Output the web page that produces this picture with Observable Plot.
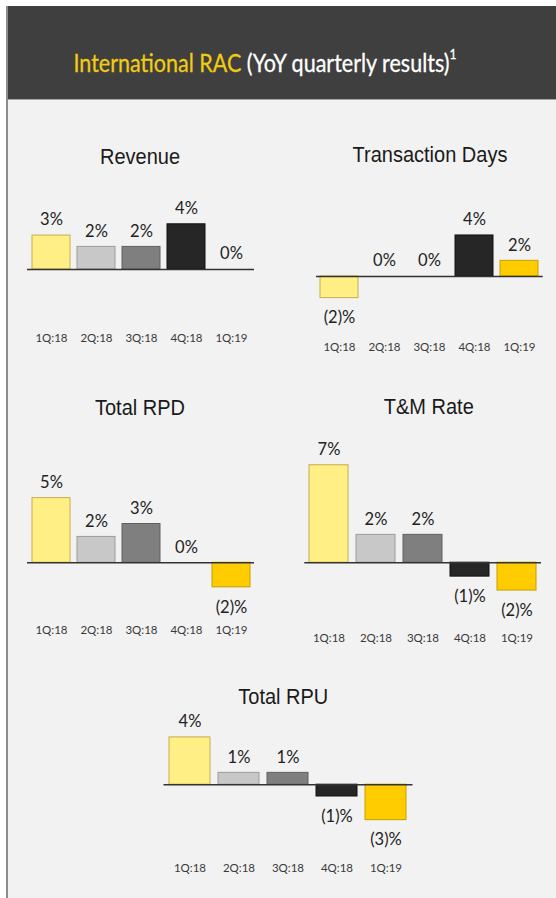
<!DOCTYPE html>
<html><head><meta charset="utf-8">
<script src="https://cdn.jsdelivr.net/npm/d3@7"></script>
<script src="https://cdn.jsdelivr.net/npm/@observablehq/plot@0.6"></script>
<style>
html,body{margin:0;padding:0;background:#fff;}
#page{position:relative;width:556px;height:898px;overflow:hidden;background:#fff;}
#header{position:absolute;left:7px;top:6px;width:549px;height:93px;background:#3f3f3f;}
#headtitle{position:absolute;left:265px;top:62px;transform:translate(-50%,-50%) scaleX(0.86);font-family:Lato,sans-serif;font-size:25px;color:#fff;white-space:nowrap;-webkit-text-stroke:0.3px currentColor;}
#headtitle .y{color:#F2CC12;}
#headtitle sup{font-size:14px;vertical-align:top;position:relative;top:-2px;}
#body{position:absolute;left:7px;top:99px;width:549px;height:799px;background:#f2f2f2;border-top:1.5px solid #a6a6a6;}
#leftline{position:absolute;left:6px;top:6px;width:1.5px;height:892px;background:#8c8c8c;}
.ptitle{position:absolute;transform:translate(-50%,-50%) scaleY(1.08);font-family:"Liberation Sans",Arial,sans-serif;font-size:20px;color:#1a1a1a;white-space:nowrap;}
.plotwrap{position:absolute;left:0;}
</style></head><body>
<div id="page">
  <div id="header"></div>
  <div id="body"></div>
  <div id="leftline"></div>
  <div id="headtitle"><span class="y">International RAC</span> (YoY quarterly results)<sup>1</sup></div>
</div>
<script>
// ---- data ----
const quarters = ["1Q:18", "2Q:18", "3Q:18", "4Q:18", "1Q:19"];
const barFills = ["#FFEF85", "#C8C8C8", "#7F7F7F", "#262626", "#FFCC00"];
const barStrokes = ["#C2AE4E", "#9C9C9C", "#606060", "#111111", "#C49E00"];

const revenue = [3.0, 2.0, 2.0, 4.0, 0.0];
const revenueLabels = ["3%", "2%", "2%", "4%", "0%"];

const transactionDays = [-2.0, 0.0, 0.0, 3.8, 1.45];
const transactionDaysLabels = ["(2)%", "0%", "0%", "4%", "2%"];

const totalRPD = [5.0, 2.0, 3.0, 0.0, -1.9];
const totalRPDLabels = ["5%", "2%", "3%", "0%", "(2)%"];

const tmRate = [7.0, 2.0, 2.0, -1.0, -2.0];
const tmRateLabels = ["7%", "2%", "2%", "(1)%", "(2)%"];

const totalRPU = [4.0, 1.0, 1.0, -1.0, -3.0];
const totalRPULabels = ["4%", "1%", "1%", "(1)%", "(3)%"];

// ---- layout (page pixel positions) ----
const panels = [
  {title: "Revenue", values: revenue, labels: revenueLabels, x0: 27, x1: 254, base: 269.3, ppp: 11.3, tickY: 337.3, tx: 140, ty: 157},
  {title: "Transaction Days", values: transactionDays, labels: transactionDaysLabels, x0: 316, x1: 542.7, base: 276, ppp: 10.8, tickY: 346, tx: 430, ty: 155},
  {title: "Total RPD", values: totalRPD, labels: totalRPDLabels, x0: 27, x1: 254, base: 561.7, ppp: 12.9, tickY: 628.3, tx: 140, ty: 408},
  {title: "T&M Rate", values: tmRate, labels: tmRateLabels, x0: 304.3, x1: 541, base: 562, ppp: 13.9, tickY: 636.7, tx: 428.8, ty: 407},
  {title: "Total RPU", values: totalRPU, labels: totalRPULabels, x0: 163.5, x1: 412.5, base: 784, ppp: 11.8, tickY: 866.7, tx: 283.3, ty: 697}
];

const page = document.getElementById("page");
const W = 556;

for (const p of panels) {
  const rows = quarters.map((q, i) => ({q, v: p.values[i], label: p.labels[i], fill: barFills[i], stroke: barStrokes[i]}));
  const above = 130;
  const svgTop = p.base - above;
  const frameBottom = p.tickY - 7;
  const mb = 20;
  const H = Math.round(frameBottom - svgTop + mb);
  const ymax = above / p.ppp;
  const ymin = -(frameBottom - p.base) / p.ppp;

  const chart = Plot.plot({
    width: W,
    height: H,
    marginLeft: p.x0,
    marginRight: W - p.x1,
    marginTop: 0,
    marginBottom: mb,
    x: {domain: quarters, paddingInner: 0.16, paddingOuter: 0.08, label: null, tickSize: 0, tickPadding: 3},
    y: {domain: [ymin, ymax], axis: null},
    color: {type: "identity"},
    style: {background: "transparent", overflow: "visible", fontFamily: "Lato, sans-serif", fontSize: "11.5px", color: "#3a3a3a"},
    marks: [
      Plot.barY(rows, {x: "q", y: "v", fill: "fill", stroke: "stroke", strokeWidth: 1}),
      Plot.ruleY([0], {stroke: "#333", strokeWidth: 1.5}),
      Plot.text(rows.filter(d => d.v >= 0), {x: "q", y: "v", text: "label", dy: -15.5, fontSize: 16.5, fill: "#222", fontFamily: "Lato, sans-serif"}),
      Plot.text(rows.filter(d => d.v < 0), {x: "q", y: "v", text: "label", dy: 20, fontSize: 16.5, fill: "#222", fontFamily: "Lato, sans-serif"})
    ]
  });
  const wrap = document.createElement("div");
  wrap.className = "plotwrap";
  wrap.style.top = svgTop + "px";
  wrap.appendChild(chart);
  page.appendChild(wrap);

  const t = document.createElement("div");
  t.className = "ptitle";
  t.style.left = p.tx + "px";
  t.style.top = p.ty + "px";
  t.textContent = p.title;
  page.appendChild(t);
}
</script>
</body></html>
